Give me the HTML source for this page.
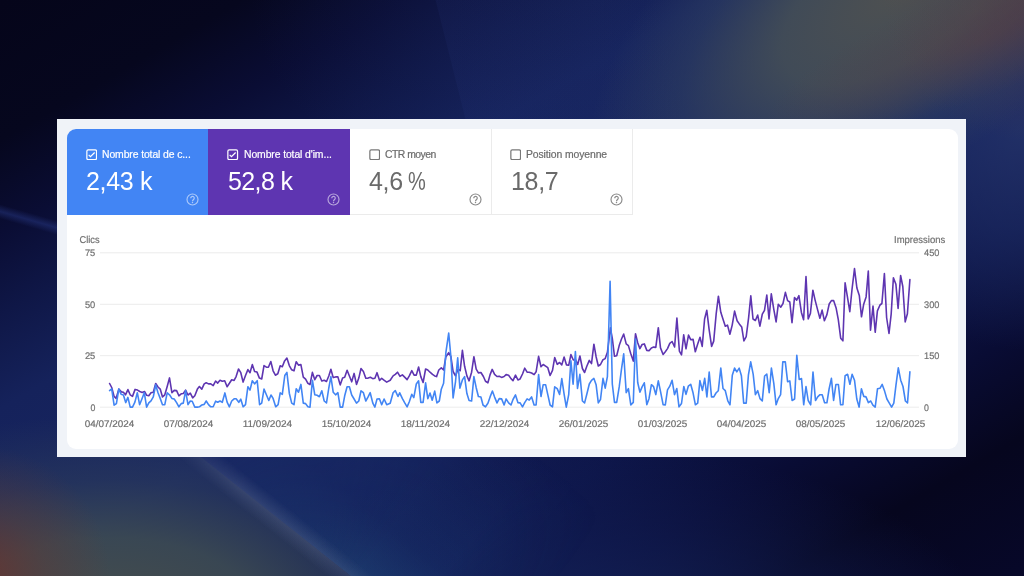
<!DOCTYPE html>
<html><head><meta charset="utf-8">
<style>
html,body{margin:0;padding:0}
body{width:1024px;height:576px;overflow:hidden;position:relative;font-family:"Liberation Sans",sans-serif;background:#0a0d33}
#bg{position:absolute;left:0;top:0;width:1024px;height:576px;overflow:hidden;
background:linear-gradient(150deg,#05051a 0%,#06071e 12%,#0a0d34 20%,#0f1747 27%,#15225b 35%,#182662 50%,#131e58 60%,#10194f 65%,#0d1548 70%,#090c34 79%,#06061e 88%,#070829 100%)}
#bg div{position:absolute}
#g0{left:250px;top:-220px;width:700px;height:440px;background:radial-gradient(closest-side,rgba(30,46,104,0.3) 0%,rgba(28,44,102,0.16) 55%,rgba(26,42,104,0) 100%)}
#b1{left:423.4px;top:-50px;width:220px;height:320px;transform-origin:0 0;transform:rotate(-14.1deg);background:linear-gradient(90deg,rgba(44,62,140,0.11) 0%,rgba(44,62,140,0.06) 40%,rgba(44,62,140,0) 100%)}
#g6{left:840px;top:-90px;width:360px;height:440px;background:radial-gradient(closest-side,rgba(38,54,108,0.75) 0%,rgba(32,48,104,0.55) 45%,rgba(24,38,98,0) 100%)}
#g7{left:230px;top:450px;width:760px;height:380px;background:radial-gradient(closest-side,rgba(26,46,108,0.7) 0%,rgba(22,38,100,0.45) 50%,rgba(18,30,90,0) 100%)}
#g1{left:540px;top:-180px;width:720px;height:340px;transform:rotate(-35deg);background:radial-gradient(closest-side,rgba(80,82,80,0.96) 0%,rgba(70,80,86,0.88) 38%,rgba(52,68,96,0.5) 70%,rgba(40,55,100,0) 100%)}
#g2{left:750px;top:-15px;width:460px;height:110px;transform:rotate(-22deg);background:radial-gradient(closest-side,rgba(92,62,64,0.4) 0%,rgba(88,64,68,0.24) 50%,rgba(90,70,70,0) 100%)}
#g2b{left:884px;top:-140px;width:280px;height:280px;background:radial-gradient(closest-side,rgba(100,62,56,0.38) 0%,rgba(94,64,62,0.2) 50%,rgba(90,70,70,0) 100%)}
#L{left:0;top:0;width:1024px;height:576px;clip-path:polygon(0 298px,351px 576px,0 576px)}
#g3{left:-270px;top:415px;width:760px;height:410px;background:radial-gradient(closest-side,rgba(74,80,74,0.95) 0%,rgba(62,76,82,0.88) 40%,rgba(46,62,90,0.55) 68%,rgba(34,50,96,0) 100%)}
#g4{left:-150px;top:446px;width:260px;height:260px;background:radial-gradient(closest-side,rgba(112,48,40,0.75) 0%,rgba(100,56,48,0.4) 50%,rgba(90,70,70,0) 100%)}
#g5{left:150px;top:207px;width:420px;height:210px;transform:rotate(38.4deg);transform-origin:0 100%;background:linear-gradient(0deg,rgba(40,88,136,0.5) 0%,rgba(36,76,136,0.25) 30%,rgba(36,72,140,0) 100%);-webkit-mask-image:linear-gradient(90deg,transparent 0%,transparent 15%,#000 62%,#000 78%,transparent 100%);mask-image:linear-gradient(90deg,transparent 0%,transparent 15%,#000 62%,#000 78%,transparent 100%)}
#s1{left:150px;top:402px;width:380px;height:30px;transform:rotate(38.4deg);transform-origin:0 50%;background:linear-gradient(180deg,rgba(120,135,170,0) 0%,rgba(105,118,150,0.3) 50%,rgba(120,135,170,0) 100%);-webkit-mask-image:linear-gradient(90deg,transparent 0%,#000 30%,#000 55%,transparent 100%);mask-image:linear-gradient(90deg,transparent 0%,#000 30%,#000 55%,transparent 100%)}
#s2{left:-40px;top:193px;width:160px;height:14px;transform:rotate(16deg);transform-origin:0 50%;background:linear-gradient(180deg,rgba(60,80,170,0) 0%,rgba(46,66,150,0.4) 50%,rgba(60,80,170,0) 100%)}
#panel{position:absolute;left:57.2px;top:118.8px;width:909.2px;height:337.9px;background:#f0f3f8}
#card{position:absolute;left:67px;top:129px;width:891px;height:319.5px;background:#fff;border-radius:9px;overflow:hidden}
.tile{position:absolute;top:0;height:85.5px;width:141.5px;box-sizing:border-box}
.tile .lab{will-change:transform;position:absolute;top:19.5px;left:34.5px;font-size:10.4px;line-height:12px;white-space:nowrap;letter-spacing:-0.1px;-webkit-text-stroke:0.2px currentColor}
.tile .val{will-change:transform;position:absolute;top:37px;left:18.5px;font-size:25px;line-height:30px;white-space:nowrap;letter-spacing:-0.3px}
.tile svg.cb{position:absolute;left:18.6px;top:19.6px;width:11.4px;height:11.4px}
.tile svg.hp{position:absolute;left:118.7px;top:63.5px}
#t1{left:0;width:141px;background:#4285f4;color:#fff}
#t2{left:141px;width:142px;background:#5e35b1;color:#fff}
#t2 .lab{left:36px}
#t2 svg.cb{left:19.2px}
#t2 svg.hp{left:119.3px}
#t3 .val{left:19.3px}
#t4 .val{left:19px}
#t4 .lab{left:34.5px}
#t3{left:283px;color:#6b6b6b;border-right:1px solid #ebebeb;border-bottom:1px solid #ebebeb}
#t4{left:424.5px;color:#6b6b6b;border-right:1px solid #ebebeb;border-bottom:1px solid #ebebeb}
#t3 .val,#t4 .val{color:#6a6a6a}
#t3 .lab{letter-spacing:-0.52px}
#t3 .val{word-spacing:-1.5px}
#t3 .val span{display:inline-block;transform:scaleX(0.8);transform-origin:0 50%}
#t2 .val{left:20.1px;letter-spacing:-0.6px}
#chart{position:absolute;left:0;top:0;will-change:transform}
#chart text{text-rendering:geometricPrecision;font-family:"Liberation Sans",sans-serif;fill:#717171;stroke:#717171;stroke-width:0.2px}

</style></head><body>
<div id="bg"><div id="g0"></div><div id="b1"></div><div id="g6"></div><div id="g7"></div><div id="g1"></div><div id="g2"></div><div id="g2b"></div><div id="L"><div id="g3"></div></div><div id="g5"></div><div id="s1"></div><div id="g4"></div><div id="s2"></div></div>
<div id="panel"></div>
<div id="card">
 <div class="tile" id="t1">
  <svg class="cb" width="12" height="12" viewBox="0 0 12 12"><rect x="0.9" y="0.9" width="10.2" height="10.2" rx="1.4" fill="none" stroke="#fff" stroke-width="1.3"/><path d="M2.8 6.2 L4.7 8.1 L9.1 3.7" fill="none" stroke="#fff" stroke-width="1.3"/></svg>
  <div class="lab">Nombre total de c...</div><div class="val">2,43 k</div>
  <svg class="hp" width="13" height="13" viewBox="0 0 13 13"><g fill="none" stroke="#fff" stroke-opacity="0.56" stroke-width="1.15"><circle cx="6.5" cy="6.5" r="5.5"/><path d="M4.75 5.15 A1.75 1.75 0 1 1 7.6 6.45 C6.9 7 6.5 7.3 6.5 8.15" stroke-width="1.2"/></g><circle cx="6.5" cy="9.55" r="0.72" fill="#fff" fill-opacity="0.56"/></svg>
 </div>
 <div class="tile" id="t2">
  <svg class="cb" width="12" height="12" viewBox="0 0 12 12"><rect x="0.9" y="0.9" width="10.2" height="10.2" rx="1.4" fill="none" stroke="#fff" stroke-width="1.3"/><path d="M2.8 6.2 L4.7 8.1 L9.1 3.7" fill="none" stroke="#fff" stroke-width="1.3"/></svg>
  <div class="lab">Nombre total d'im...</div><div class="val">52,8 k</div>
  <svg class="hp" width="13" height="13" viewBox="0 0 13 13"><g fill="none" stroke="#fff" stroke-opacity="0.56" stroke-width="1.15"><circle cx="6.5" cy="6.5" r="5.5"/><path d="M4.75 5.15 A1.75 1.75 0 1 1 7.6 6.45 C6.9 7 6.5 7.3 6.5 8.15" stroke-width="1.2"/></g><circle cx="6.5" cy="9.55" r="0.72" fill="#fff" fill-opacity="0.56"/></svg>
 </div>
 <div class="tile" id="t3">
  <svg class="cb" width="12" height="12" viewBox="0 0 12 12"><rect x="0.9" y="0.9" width="10.2" height="10.2" rx="1.4" fill="none" stroke="#787878" stroke-width="1.3"/></svg>
  <div class="lab">CTR moyen</div><div class="val">4,6 <span>%</span></div>
  <svg class="hp" width="13" height="13" viewBox="0 0 13 13"><g fill="none" stroke="#8a8a8a" stroke-opacity="1" stroke-width="1.15"><circle cx="6.5" cy="6.5" r="5.5"/><path d="M4.75 5.15 A1.75 1.75 0 1 1 7.6 6.45 C6.9 7 6.5 7.3 6.5 8.15" stroke-width="1.2"/></g><circle cx="6.5" cy="9.55" r="0.72" fill="#8a8a8a" fill-opacity="1"/></svg>
 </div>
 <div class="tile" id="t4">
  <svg class="cb" width="12" height="12" viewBox="0 0 12 12"><rect x="0.9" y="0.9" width="10.2" height="10.2" rx="1.4" fill="none" stroke="#787878" stroke-width="1.3"/></svg>
  <div class="lab">Position moyenne</div><div class="val">18,7</div>
  <svg class="hp" width="13" height="13" viewBox="0 0 13 13"><g fill="none" stroke="#8a8a8a" stroke-opacity="1" stroke-width="1.15"><circle cx="6.5" cy="6.5" r="5.5"/><path d="M4.75 5.15 A1.75 1.75 0 1 1 7.6 6.45 C6.9 7 6.5 7.3 6.5 8.15" stroke-width="1.2"/></g><circle cx="6.5" cy="9.55" r="0.72" fill="#8a8a8a" fill-opacity="1"/></svg>
 </div>
</div>
<svg id="chart" width="1024" height="576" viewBox="0 0 1024 576">
 <g stroke="#ececec" stroke-width="1">
  <line x1="100" x2="919" y1="252.8" y2="252.8"/><line x1="100" x2="919" y1="304.3" y2="304.3"/><line x1="100" x2="919" y1="355.7" y2="355.7"/><line x1="100" x2="919" y1="407.2" y2="407.2"/>
 </g>
 <g font-size="9.5">
  <text x="79.5" y="243" font-size="9.9" textLength="20.2" lengthAdjust="spacingAndGlyphs">Clics</text>
  <text x="95.3" y="256" text-anchor="end" textLength="10.4" lengthAdjust="spacingAndGlyphs">75</text>
  <text x="95.3" y="307.5" text-anchor="end" textLength="10.4" lengthAdjust="spacingAndGlyphs">50</text>
  <text x="95.3" y="359" text-anchor="end" textLength="10.4" lengthAdjust="spacingAndGlyphs">25</text>
  <text x="95.3" y="410.5" text-anchor="end" textLength="4.9" lengthAdjust="spacingAndGlyphs">0</text>
  <text x="945.2" y="243" font-size="9.9" text-anchor="end" textLength="51.2" lengthAdjust="spacingAndGlyphs">Impressions</text>
  <text x="924" y="256" textLength="15.4" lengthAdjust="spacingAndGlyphs">450</text>
  <text x="924" y="307.5" textLength="15.4" lengthAdjust="spacingAndGlyphs">300</text>
  <text x="924" y="359" textLength="15.4" lengthAdjust="spacingAndGlyphs">150</text>
  <text x="924" y="410.5" textLength="4.9" lengthAdjust="spacingAndGlyphs">0</text>
 </g>
 <g font-size="9.6" text-anchor="middle" id="xl">
  <text x="109.4" y="426.7" textLength="49.5" lengthAdjust="spacingAndGlyphs">04/07/2024</text>
  <text x="188.4" y="426.7" textLength="49.5" lengthAdjust="spacingAndGlyphs">07/08/2024</text>
  <text x="267.4" y="426.7" textLength="49.5" lengthAdjust="spacingAndGlyphs">11/09/2024</text>
  <text x="346.4" y="426.7" textLength="49.5" lengthAdjust="spacingAndGlyphs">15/10/2024</text>
  <text x="425.4" y="426.7" textLength="49.5" lengthAdjust="spacingAndGlyphs">18/11/2024</text>
  <text x="504.4" y="426.7" textLength="49.5" lengthAdjust="spacingAndGlyphs">22/12/2024</text>
  <text x="583.4" y="426.7" textLength="49.5" lengthAdjust="spacingAndGlyphs">26/01/2025</text>
  <text x="662.4" y="426.7" textLength="49.5" lengthAdjust="spacingAndGlyphs">01/03/2025</text>
  <text x="741.4" y="426.7" textLength="49.5" lengthAdjust="spacingAndGlyphs">04/04/2025</text>
  <text x="820.4" y="426.7" textLength="49.5" lengthAdjust="spacingAndGlyphs">08/05/2025</text>
  <text x="900.5" y="426.7" textLength="49.5" lengthAdjust="spacingAndGlyphs">12/06/2025</text>
 </g>
 <polyline fill="none" stroke="#5e35b1" stroke-width="1.6" stroke-linejoin="round" stroke-linecap="round" points="109.6,383.5 111.7,387.5 114.1,396.4 116.1,398.4 118.8,389.1 121.4,391.9 123.4,392.2 125.5,394.8 127.9,389.6 130.2,394.8 132.5,396.4 135.1,389.4 137.5,390.1 139.8,391.5 142.2,392.5 144.5,391.5 146.7,395.3 148.8,395.8 151.0,392.7 153.3,392.2 155.7,383.5 158.0,387.0 160.2,389.1 162.5,396.9 164.8,394.8 167.2,386.5 169.5,377.9 171.9,392.7 174.2,390.4 176.6,390.6 178.9,395.8 181.2,393.8 183.3,393.5 185.6,390.1 188.0,395.0 190.3,393.2 192.7,397.9 194.8,395.8 197.4,389.1 199.4,386.5 201.8,389.1 204.2,383.9 206.2,382.8 208.5,383.9 210.8,383.9 213.2,385.6 215.6,381.0 217.7,383.1 220.0,380.2 222.3,381.2 224.7,380.7 227.1,386.7 229.4,383.3 231.7,379.7 234.1,380.4 236.1,376.6 238.5,369.0 240.8,372.7 243.1,382.1 245.5,375.5 247.9,369.6 250.0,372.7 252.3,364.6 254.6,371.4 257.0,372.1 259.4,378.1 261.7,379.0 264.0,365.6 266.4,367.2 268.4,367.2 270.8,361.5 273.1,370.8 275.4,375.2 277.8,373.8 280.2,365.8 282.3,366.7 284.6,360.9 286.9,358.1 289.3,365.6 291.7,369.8 294.0,370.8 296.2,361.7 298.5,365.1 300.9,364.6 303.3,377.1 305.6,379.2 307.9,383.3 310.0,384.6 312.4,372.4 314.8,379.7 317.1,375.5 319.4,375.5 321.8,381.0 324.2,380.2 326.5,381.5 328.8,376.0 330.9,369.3 333.2,377.6 335.6,376.9 337.9,376.9 340.2,384.9 342.6,377.9 344.7,377.3 347.1,370.3 349.4,376.0 351.7,381.8 354.1,373.4 356.5,384.4 358.8,378.1 361.0,368.5 363.4,371.4 365.8,378.3 368.1,378.1 370.4,377.3 372.8,378.6 374.9,378.3 377.0,372.7 379.6,380.4 381.7,378.3 384.3,380.4 386.7,382.1 390.2,380.3 393.1,375.9 395.3,374.4 397.5,372.2 400.0,376.3 402.4,374.9 404.9,377.4 407.1,379.6 409.3,375.9 411.8,370.7 414.1,375.1 416.3,375.1 418.6,367.0 420.8,376.6 423.1,382.5 425.6,369.0 427.8,370.0 430.0,372.2 432.5,374.4 434.7,375.9 436.6,376.6 438.8,370.0 441.3,367.8 443.6,370.0 445.9,356.7 448.7,352.7 450.9,356.7 453.1,371.5 455.5,375.9 458.0,369.2 460.2,370.7 462.4,350.4 464.6,366.3 466.9,375.9 469.1,380.8 471.6,372.2 473.9,356.7 476.2,369.2 478.4,372.9 480.9,372.5 483.4,376.5 485.5,381.3 487.9,382.8 490.1,374.6 492.2,369.4 494.6,374.3 497.0,376.5 499.2,376.2 501.6,377.4 504.1,376.5 506.1,374.6 508.6,375.2 511.0,378.6 513.0,380.7 515.5,375.2 517.9,379.9 520.1,378.9 522.5,374.0 524.7,368.2 527.1,372.2 529.2,372.2 531.6,373.0 534.1,374.6 536.1,371.8 538.6,356.4 541.0,366.7 543.2,364.5 545.6,366.1 547.8,367.7 550.1,375.5 552.5,370.4 554.7,357.6 557.2,364.3 559.6,362.5 561.8,364.9 564.1,357.0 566.5,364.9 568.7,365.3 570.9,354.6 573.3,360.0 575.6,359.7 577.7,364.5 579.9,356.0 582.4,368.5 584.6,372.5 586.8,366.3 589.3,360.4 591.5,363.6 593.9,344.2 596.1,356.7 598.3,366.0 600.5,364.5 603.0,359.7 605.2,358.6 607.4,352.3 610.4,327.9 612.3,338.3 614.5,356.3 616.7,355.7 619.2,345.6 621.5,339.0 623.7,334.1 626.2,343.9 628.4,345.6 630.8,353.8 633.3,361.1 635.5,333.8 637.7,342.7 639.9,348.6 642.1,344.5 644.3,343.9 646.8,350.4 649.0,350.8 651.4,347.9 653.6,347.1 655.8,347.4 658.3,327.7 660.5,347.9 663.1,354.5 665.3,351.8 667.5,348.6 669.8,343.4 672.1,341.5 674.6,347.0 676.9,318.0 679.4,351.2 681.5,354.9 683.7,334.8 686.0,348.8 688.5,335.1 690.7,339.7 693.1,339.4 695.3,351.8 697.7,343.9 700.0,337.2 702.2,346.4 704.6,319.0 706.8,310.3 709.1,329.3 711.6,346.4 713.7,341.1 716.2,313.6 718.4,296.2 720.8,312.3 723.1,319.6 725.3,326.3 727.5,325.1 729.9,334.2 732.2,325.1 734.6,311.1 737.1,320.8 739.3,323.9 741.7,326.9 743.9,340.9 746.2,336.6 748.6,317.8 750.8,295.9 753.0,319.0 755.4,320.5 757.7,315.1 759.9,326.1 762.3,314.2 764.5,310.3 766.8,295.0 769.0,319.0 771.3,293.9 773.8,309.4 776.1,321.9 778.3,304.2 780.8,307.2 783.0,303.5 785.4,292.4 787.6,300.6 789.8,302.0 792.0,322.7 794.5,297.6 796.7,300.1 798.9,295.7 801.4,312.4 803.6,319.7 806.0,276.5 808.2,319.0 810.4,313.4 812.9,290.2 815.1,300.1 817.7,310.1 819.9,318.3 822.1,310.1 824.4,320.8 826.9,314.6 829.2,304.0 831.4,300.6 833.6,300.6 836.1,307.9 838.3,319.7 840.7,338.2 842.9,340.8 845.1,282.9 847.3,296.1 849.8,311.6 852.0,289.5 854.5,268.6 856.9,288.0 859.3,295.4 861.5,316.8 863.7,304.2 866.1,296.9 868.3,271.1 870.5,330.1 873.0,306.0 875.2,332.3 877.4,310.9 880.0,305.0 881.9,303.5 884.4,273.6 886.6,317.5 889.0,333.5 891.2,313.8 893.4,277.7 895.9,284.3 898.1,308.4 900.6,275.5 902.8,286.5 905.2,321.9 907.4,313.8 909.9,279.5"/>
 <polyline fill="none" stroke="#4285f4" stroke-width="1.6" stroke-linejoin="round" stroke-linecap="round" points="109.6,390.6 111.7,388.8 114.1,405.2 116.4,403.6 118.8,389.1 121.1,394.3 123.4,395.0 125.7,402.6 127.9,397.4 130.2,407.1 132.5,407.1 134.9,402.1 137.3,392.7 139.6,404.7 141.9,399.0 144.3,392.7 146.6,407.1 148.8,402.9 151.0,400.8 153.3,396.9 155.7,384.9 158.0,392.7 160.2,398.4 162.5,404.7 164.8,404.7 167.2,392.9 169.5,394.8 171.9,398.4 174.2,399.0 176.6,402.6 178.9,406.8 181.2,403.6 183.3,403.1 185.6,390.6 188.0,404.7 190.3,401.0 192.2,401.2 194.8,407.1 197.4,407.1 199.4,406.8 201.8,405.0 204.2,404.4 206.2,401.0 208.5,404.7 210.8,406.8 213.2,406.8 215.6,401.2 217.7,402.3 220.0,401.0 222.3,402.3 224.9,392.9 227.1,402.1 229.4,406.8 231.7,401.0 234.1,398.8 236.1,398.8 238.8,402.3 240.8,399.2 243.1,406.8 245.5,404.7 247.9,386.7 250.0,390.1 252.3,380.7 254.6,383.9 257.2,380.7 259.6,404.7 261.7,403.1 264.0,389.1 266.4,394.8 268.8,400.5 271.0,395.0 273.1,398.4 275.7,406.8 278.1,404.7 280.2,392.9 282.3,394.3 284.8,375.5 286.9,372.4 289.3,393.2 291.7,403.1 294.0,404.7 296.2,388.8 298.5,392.2 300.9,384.4 303.3,403.1 305.6,403.6 307.9,406.8 310.0,407.1 312.4,380.2 314.8,394.8 317.1,395.3 319.4,396.7 321.8,390.8 324.2,401.0 326.5,402.9 328.8,388.0 330.9,376.6 333.2,392.2 335.6,394.8 337.9,392.7 340.2,407.1 342.6,407.1 344.7,395.8 347.1,386.7 349.4,386.7 351.7,395.0 354.1,399.0 356.5,403.1 358.8,401.0 361.0,390.8 363.4,392.7 365.8,401.0 368.1,396.9 370.2,392.7 372.8,403.1 374.9,407.1 377.0,399.0 379.4,398.8 381.7,404.7 384.1,399.0 386.7,404.7 390.2,403.2 393.1,392.8 395.3,390.6 398.0,396.5 399.7,392.8 402.4,398.7 404.9,403.2 407.1,406.9 409.3,401.7 411.8,394.3 413.8,397.6 416.3,384.0 418.6,380.8 420.8,402.4 423.1,402.4 425.6,382.8 427.8,398.7 430.0,393.1 432.2,400.2 434.7,391.1 436.9,402.9 439.3,401.0 441.3,389.2 443.6,383.3 445.9,352.3 448.7,333.1 450.9,356.7 453.1,398.0 455.5,381.8 457.7,357.7 459.9,388.1 462.4,379.9 464.6,376.6 466.9,393.6 469.1,400.5 471.6,401.0 473.9,376.6 476.2,387.7 478.4,396.5 480.9,397.0 483.0,405.0 485.5,406.8 487.9,403.2 490.1,396.9 492.4,391.0 494.6,397.1 497.0,402.9 499.2,398.6 501.6,398.9 504.1,405.0 506.1,398.9 508.6,402.9 511.0,405.0 513.0,399.5 515.5,394.9 517.9,402.6 520.1,402.9 522.5,406.8 524.7,402.6 527.1,398.9 529.2,400.1 531.6,396.9 534.1,405.0 536.1,405.0 538.6,374.6 541.0,396.5 543.2,384.7 545.6,384.7 547.8,394.7 550.1,405.0 552.5,406.8 554.7,386.8 557.2,388.6 559.6,394.4 561.8,378.6 564.1,394.1 566.3,407.1 568.7,394.7 570.9,360.7 573.1,384.3 575.4,351.5 577.5,388.4 579.9,374.4 582.4,401.0 584.6,402.9 586.8,394.3 589.3,384.0 591.5,380.3 593.9,378.4 596.1,384.7 598.3,402.9 600.5,399.5 603.0,378.4 605.2,388.1 607.4,376.6 610.1,281.2 612.3,384.0 614.5,402.4 616.7,402.4 619.2,386.9 621.5,369.2 623.7,353.8 626.2,392.6 628.4,388.7 630.8,404.9 633.3,402.4 635.5,339.0 637.7,382.5 639.9,392.1 642.1,386.9 644.3,382.8 646.8,404.6 649.0,398.7 651.4,384.7 653.6,386.7 655.8,394.6 658.3,380.8 660.5,391.4 663.1,404.6 665.3,404.9 667.5,389.9 669.8,386.2 672.1,380.3 674.5,394.7 676.8,388.5 679.0,406.9 681.5,403.5 683.8,386.5 686.0,394.4 688.3,386.2 690.7,384.3 692.9,392.2 695.4,404.8 697.7,403.1 699.9,380.6 702.4,390.4 704.7,378.3 706.9,396.9 709.2,372.1 711.5,396.9 713.8,396.9 716.0,393.0 718.3,390.7 720.8,368.1 723.0,388.5 725.3,390.7 727.8,400.9 730.0,404.8 732.3,375.2 734.6,368.1 736.8,371.9 739.2,368.1 741.4,375.7 743.7,403.1 746.2,403.1 748.4,375.2 750.7,361.9 753.2,374.3 755.4,394.7 757.7,390.7 760.0,398.6 762.3,400.9 764.6,376.0 766.8,374.1 769.2,392.6 771.4,368.1 773.8,383.4 776.1,404.8 778.3,398.6 780.6,394.7 782.8,361.9 785.3,361.9 787.6,381.7 789.8,380.9 792.1,400.5 794.6,399.0 796.8,355.4 799.2,379.4 801.5,378.6 803.7,404.8 806.0,386.5 808.2,400.5 810.7,404.8 813.0,372.1 815.5,400.5 817.7,396.9 820.0,394.7 822.2,394.7 824.6,402.8 826.9,402.8 829.1,389.0 831.4,378.3 833.6,400.5 835.9,384.5 838.4,384.5 840.6,404.8 842.9,404.8 845.1,375.7 847.6,374.3 849.9,384.3 852.1,374.3 854.5,380.2 856.8,399.0 859.1,407.1 861.4,388.8 863.8,396.4 866.0,396.9 868.4,402.6 870.7,401.0 872.9,405.2 875.2,407.1 877.5,388.8 879.9,388.3 882.2,384.4 884.6,391.1 886.9,399.0 889.3,403.1 891.6,407.1 893.8,403.1 896.0,384.9 898.3,367.9 900.7,380.2 903.0,386.5 905.4,401.0 907.5,402.9 909.9,371.9"/>
</svg>
</body></html>
